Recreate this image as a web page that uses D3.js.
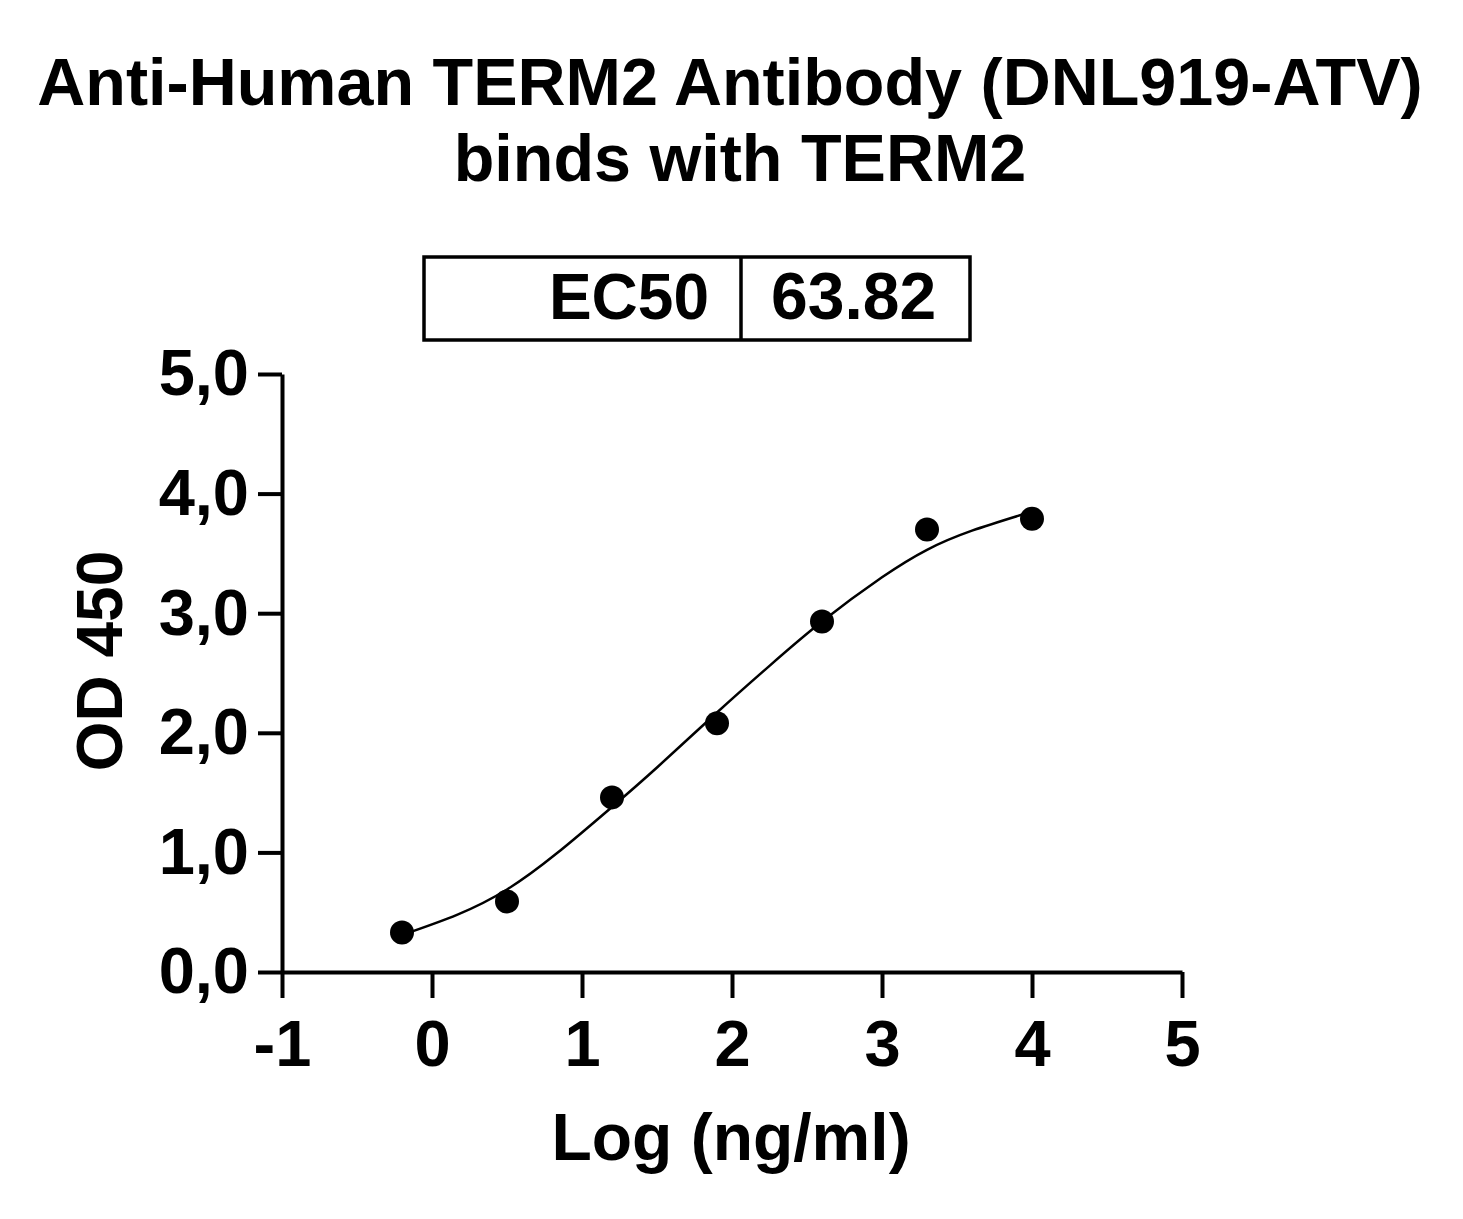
<!DOCTYPE html>
<html>
<head>
<meta charset="utf-8">
<script src="https://cdn.jsdelivr.net/npm/d3@7"></script>
<style>
  body { margin: 0; background: #fff; }
  text { font-family: "Liberation Sans", Arial, sans-serif; font-weight: bold; fill: #000; }
</style>
</head>
<body>
<div id="chart"></div>
<script>
// Chart size, same as the window
var width = 1463,
    height = 1219;

// Measured points: log concentration and OD 450
var logConc = [-0.2, 0.5, 1.2, 1.9, 2.6, 3.3, 4.0];
var od450 = [0.33, 0.59, 1.46, 2.08, 2.93, 3.70, 3.79];

// Fitted curve
var fitX = [-0.2, 0.17, 0.5, 0.83, 1.2, 1.5, 1.9, 2.25, 2.6, 3.0, 3.3, 3.6, 4.0];
var fitY = [0.31, 0.48, 0.69, 0.99, 1.38, 1.71, 2.17, 2.56, 2.93, 3.30, 3.53, 3.69, 3.85];

// Axis ticks
var xTicks = [-1, 0, 1, 2, 3, 4, 5];
var yTicks = [0, 1, 2, 3, 4, 5];

var titleLines = ["Anti-Human TERM2 Antibody (DNL919-ATV)", "binds with TERM2"];
var ec50Label = "EC50",
    ec50Value = "63.82";

var x = d3.scaleLinear().domain([-1, 5]).range([282, 1182]),
    y = d3.scaleLinear().domain([0, 5]).range([972, 374]);

var svg = d3.select("#chart").
    append("svg").
    attr("width", width).
    attr("height", height);

// Title, two lines
svg.selectAll(".title").
    data(titleLines).
    enter().
    append("text").
    attr("class", "title").
    attr("x", function(d, i) { return i == 0 ? 730 : 740; }).
    attr("y", function(d, i) { return 105 + i * 76; }).
    attr("text-anchor", "middle").
    style("font-size", "66.5px").
    text(function(d) { return d; });

// EC50 box
var box = svg.append("g");
box.append("rect").
    attr("x", 424).
    attr("y", 257).
    attr("width", 546).
    attr("height", 83).
    attr("fill", "none").
    attr("stroke", "#000").
    attr("stroke-width", 3.5);
box.append("line").
    attr("x1", 741).attr("x2", 741).
    attr("y1", 257).attr("y2", 340).
    attr("stroke", "#000").
    attr("stroke-width", 3.5);
box.append("text").
    attr("x", 709).
    attr("y", 319).
    attr("text-anchor", "end").
    style("font-size", "64px").
    text(ec50Label);
box.append("text").
    attr("x", 771).
    attr("y", 319).
    style("font-size", "66px").
    text(ec50Value);

// Axes
var xAxis = d3.axisBottom(x).
    tickValues(xTicks).
    tickFormat(function(d) { return String(d); }).
    tickSize(26).
    tickSizeOuter(0).
    tickPadding(22);
var yAxis = d3.axisLeft(y).
    tickValues(yTicks).
    tickFormat(function(d) { return d.toFixed(1).replace(".", ","); }).
    tickSize(24).
    tickSizeOuter(0).
    tickPadding(9);

var gx = svg.append("g").
    attr("transform", "translate(0," + y(0) + ")").
    call(xAxis);
var gy = svg.append("g").
    attr("transform", "translate(" + x(-1) + ",0)").
    call(yAxis);

[gx, gy].forEach(function(g) {
    g.selectAll("path, line").
        attr("stroke", "#000").
        attr("stroke-width", 4);
    g.selectAll("text").
        attr("fill", "#000").
        style("font-family", "'Liberation Sans', Arial, sans-serif").
        style("font-weight", "bold").
        style("font-size", "65px");
});

// Axis titles
svg.append("text").
    attr("x", 731).
    attr("y", 1160).
    attr("text-anchor", "middle").
    style("font-size", "66px").
    text("Log (ng/ml)");
svg.append("text").
    attr("transform", "translate(122,661) rotate(-90)").
    attr("text-anchor", "middle").
    style("font-size", "64px").
    text("OD 450");

// Fitted curve
var line = d3.line().
    x(function(d) { return x(d[0]); }).
    y(function(d) { return y(d[1]); }).
    curve(d3.curveNatural);

svg.append("path").
    datum(d3.zip(fitX, fitY)).
    attr("d", line).
    attr("fill", "none").
    attr("stroke", "#000").
    attr("stroke-width", 2.5);

// Data points
svg.selectAll(".dot").
    data(d3.zip(logConc, od450)).
    enter().
    append("circle").
    attr("class", "dot").
    attr("cx", function(d) { return x(d[0]); }).
    attr("cy", function(d) { return y(d[1]); }).
    attr("r", 12).
    attr("fill", "#000");
</script>
</body>
</html>
